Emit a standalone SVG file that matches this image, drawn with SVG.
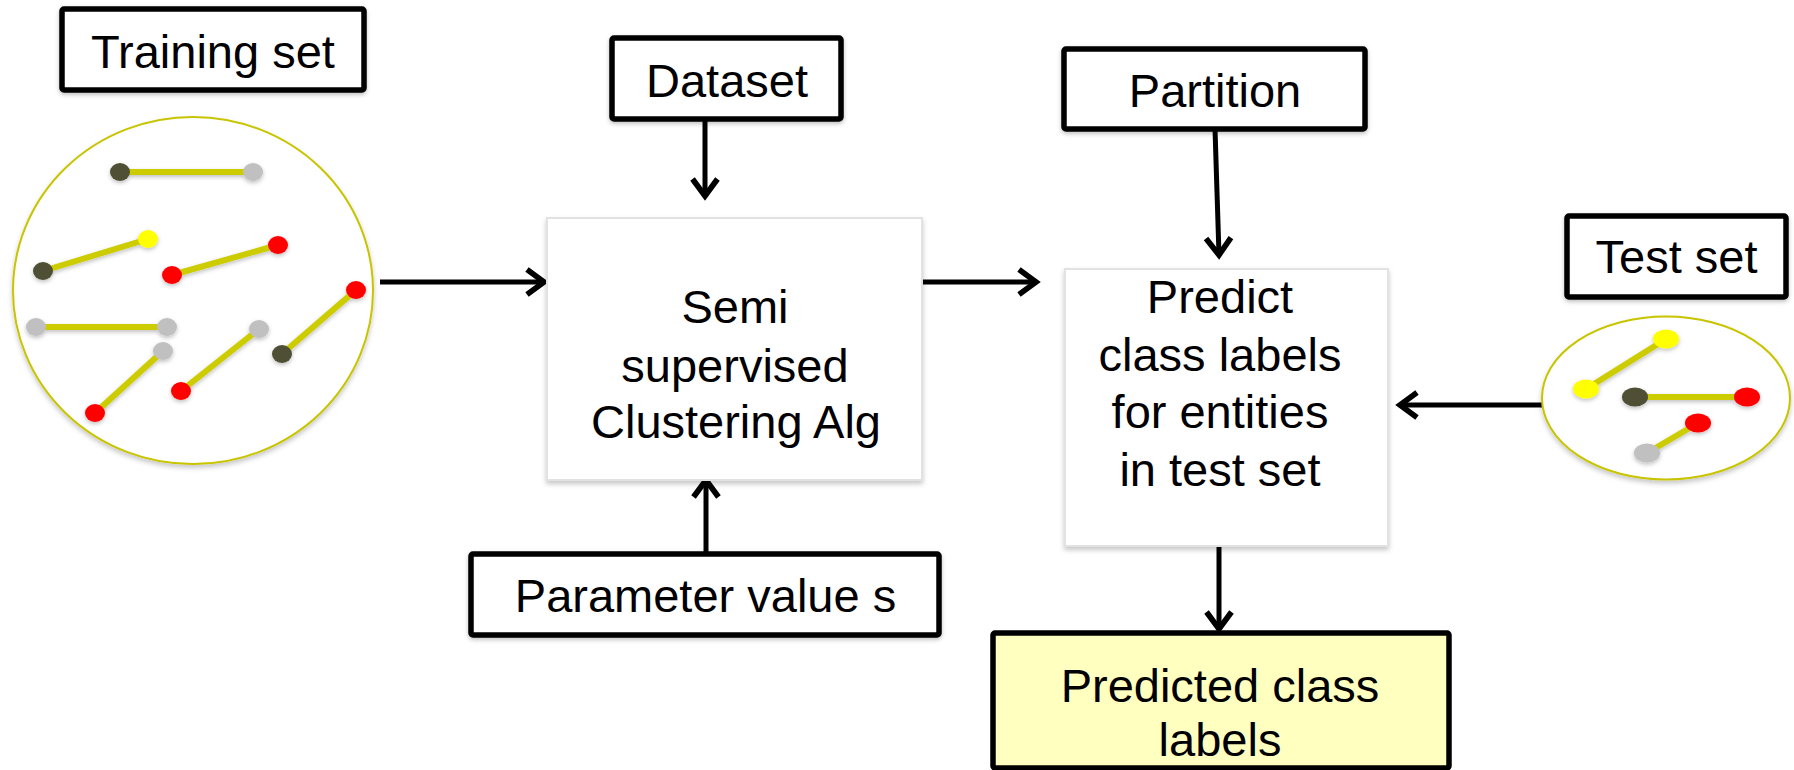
<svg xmlns="http://www.w3.org/2000/svg" width="1794" height="770" viewBox="0 0 1794 770">
  <defs>
    <style>
      text { font-family: "Liberation Sans", Arial, sans-serif; fill: #000; text-anchor: middle; font-size: 47px; }
      .box { fill: #fff; stroke: #000; stroke-width: 5.5; }
      .proc { fill: #fff; stroke: #e2e2e2; stroke-width: 2; }
      .result { fill: #ffffc0; stroke: #000; stroke-width: 5.5; }
      .set { fill: #fff; stroke: #c8c400; stroke-width: 2; }
      .bond { stroke: #cccc00; stroke-width: 6; }
      .dk { fill: #4f4f35; }
      .gy { fill: #c0c0c0; }
      .yl { fill: #ffff00; }
      .rd { fill: #ff0000; }
      .edge { stroke: #000; stroke-width: 5; fill: none; }
    </style>
    <marker id="head" markerUnits="userSpaceOnUse" markerWidth="34" markerHeight="34" viewBox="-20 -15 24 30" refX="0" refY="0" orient="auto">
      <path d="M -15 -11 L 0 0 L -15 11" fill="none" stroke="#000" stroke-width="5" stroke-linejoin="miter"/>
    </marker>
    <filter id="shadow" x="-10%" y="-10%" width="120%" height="125%">
      <feDropShadow dx="0" dy="3" stdDeviation="2.5" flood-color="#000" flood-opacity="0.22"/>
    </filter>
    <filter id="soft" x="-10%" y="-10%" width="120%" height="130%">
      <feDropShadow dx="0" dy="2" stdDeviation="2" flood-color="#000" flood-opacity="0.25"/>
    </filter>
  </defs>

  <!-- connectors -->
  <g id="connectors">
    <line class="edge" x1="380" y1="282" x2="544" y2="282" marker-end="url(#head)"/>
    <line class="edge" x1="705" y1="119" x2="705" y2="196" marker-end="url(#head)"/>
    <line class="edge" x1="706" y1="554" x2="706" y2="480" marker-end="url(#head)"/>
    <line class="edge" x1="922" y1="282" x2="1036" y2="282" marker-end="url(#head)"/>
    <line class="edge" x1="1215" y1="129" x2="1219" y2="255" marker-end="url(#head)"/>
    <line class="edge" x1="1542" y1="405" x2="1400" y2="405" marker-end="url(#head)"/>
    <line class="edge" x1="1219" y1="546" x2="1219" y2="629" marker-end="url(#head)"/>
  </g>

  <!-- training set label -->
  <g id="training-label">
    <rect class="box" x="62" y="9" width="302" height="81" rx="2" filter="url(#soft)"/>
    <text x="213" y="68">Training set</text>
  </g>

  <!-- training set: circle of linked pairs -->
  <g id="training-set">
    <ellipse class="set" cx="193" cy="290.5" rx="180" ry="173.5" filter="url(#shadow)"/>
    <g filter="url(#soft)">
      <line class="bond" x1="120" y1="172" x2="253" y2="172"/>
      <line class="bond" x1="43" y1="271" x2="148" y2="239"/>
      <line class="bond" x1="172" y1="275" x2="278" y2="245"/>
      <line class="bond" x1="36" y1="327" x2="167" y2="327"/>
      <line class="bond" x1="163" y1="351" x2="95" y2="413"/>
      <line class="bond" x1="181" y1="391" x2="259" y2="329"/>
      <line class="bond" x1="282" y1="354" x2="356" y2="290"/>
      <ellipse class="dk" cx="120" cy="172" rx="10" ry="9"/>
      <ellipse class="gy" cx="253" cy="172" rx="10" ry="9"/>
      <ellipse class="dk" cx="43" cy="271" rx="10" ry="9"/>
      <ellipse class="yl" cx="148" cy="239" rx="10" ry="9"/>
      <ellipse class="rd" cx="172" cy="275" rx="10" ry="9"/>
      <ellipse class="rd" cx="278" cy="245" rx="10" ry="9"/>
      <ellipse class="gy" cx="36" cy="327" rx="10" ry="9"/>
      <ellipse class="gy" cx="167" cy="327" rx="10" ry="9"/>
      <ellipse class="gy" cx="163" cy="351" rx="10" ry="9"/>
      <ellipse class="rd" cx="95" cy="413" rx="10" ry="9"/>
      <ellipse class="rd" cx="181" cy="391" rx="10" ry="9"/>
      <ellipse class="gy" cx="259" cy="329" rx="10" ry="9"/>
      <ellipse class="dk" cx="282" cy="354" rx="10" ry="9"/>
      <ellipse class="rd" cx="356" cy="290" rx="10" ry="9"/>
    </g>
  </g>

  <!-- dataset -->
  <g id="dataset">
    <rect class="box" x="612" y="38" width="229" height="81" rx="2" filter="url(#soft)"/>
    <text x="727" y="97">Dataset</text>
  </g>

  <!-- clustering algorithm -->
  <g id="clustering">
    <rect class="proc" x="547" y="218" width="375" height="262" filter="url(#shadow)"/>
    <text x="735" y="323">Semi</text>
    <text x="735" y="382">supervised</text>
    <text x="736" y="438">Clustering Alg</text>
  </g>

  <!-- parameter -->
  <g id="parameter">
    <rect class="box" x="471" y="554" width="468" height="81" rx="2" filter="url(#soft)"/>
    <text x="705.5" y="612">Parameter value s</text>
  </g>

  <!-- partition -->
  <g id="partition">
    <rect class="box" x="1064" y="49" width="301" height="80" rx="2" filter="url(#soft)"/>
    <text x="1215" y="107">Partition</text>
  </g>

  <!-- prediction step -->
  <g id="predict">
    <rect class="proc" x="1065" y="269" width="323" height="277" filter="url(#shadow)"/>
    <text x="1220" y="313">Predict</text>
    <text x="1220" y="371">class labels</text>
    <text x="1220" y="428">for entities</text>
    <text x="1220" y="486">in test set</text>
  </g>

  <!-- test set label -->
  <g id="test-label">
    <rect class="box" x="1567" y="216" width="219" height="81" rx="2" filter="url(#soft)"/>
    <text x="1676.5" y="273">Test set</text>
  </g>

  <!-- test set: circle of linked pairs -->
  <g id="test-set">
    <ellipse class="set" cx="1666" cy="398" rx="124" ry="81.5" filter="url(#shadow)"/>
    <g filter="url(#soft)">
      <line class="bond" x1="1586" y1="389" x2="1666" y2="339" stroke-width="5"/>
      <line class="bond" x1="1635" y1="397" x2="1747" y2="397" stroke-width="5"/>
      <line class="bond" x1="1647" y1="453" x2="1698" y2="423" stroke-width="5"/>
      <ellipse class="yl" cx="1586" cy="389" rx="13" ry="9.5"/>
      <ellipse class="yl" cx="1666" cy="339" rx="13" ry="9.5"/>
      <ellipse class="dk" cx="1635" cy="397" rx="13" ry="9.5"/>
      <ellipse class="rd" cx="1747" cy="397" rx="13" ry="9.5"/>
      <ellipse class="gy" cx="1647" cy="453" rx="13" ry="9.5"/>
      <ellipse class="rd" cx="1698" cy="423" rx="13" ry="9.5"/>
    </g>
  </g>

  <!-- output -->
  <g id="predicted">
    <rect class="result" x="993" y="633" width="456" height="135" rx="2"/>
    <text x="1220" y="702">Predicted class</text>
    <text x="1220" y="756">labels</text>
  </g>
</svg>
